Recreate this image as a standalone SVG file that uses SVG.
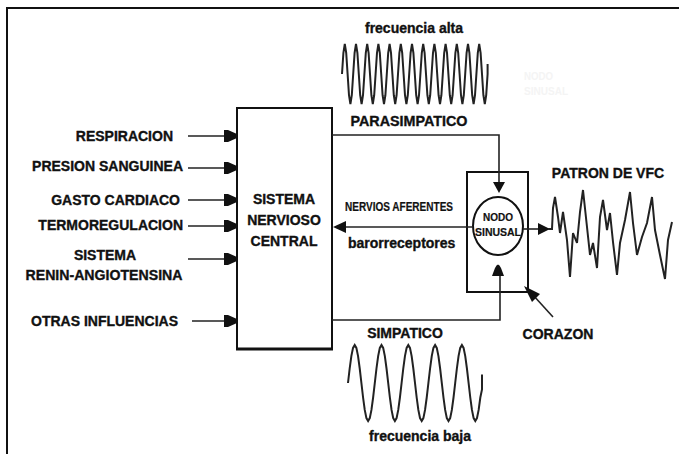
<svg xmlns="http://www.w3.org/2000/svg" xmlns:xlink="http://www.w3.org/1999/xlink" width="690" height="454" viewBox="0 0 690 454">
<style>
.t{font-family:"Liberation Sans",Arial,sans-serif;font-weight:bold;font-size:14px;fill:#111;stroke:#111;stroke-width:0.35}
.s{font-size:11px}
.ln{stroke:#222;stroke-width:1.6;fill:none}
.box{fill:#fff;stroke:#111;stroke-width:2}
.wave{fill:none;stroke:#222;stroke-width:2;stroke-linejoin:miter}
.ah{fill:#111}
</style>
<defs>
<path id="inarr" d="M0,-6 H4 L13,-2 V2 L4,6 H0 Z"/>
</defs>
<rect width="690" height="454" fill="#fff"/>
<path d="M7,460 V8 H679" fill="none" stroke="#111" stroke-width="2"/>

<g id="inputs">
<text class="t" x="173" y="141" text-anchor="end">RESPIRACION</text>
<text class="t" x="183" y="171" text-anchor="end">PRESION SANGUINEA</text>
<text class="t" x="180" y="205" text-anchor="end">GASTO CARDIACO</text>
<text class="t" x="183" y="230" text-anchor="end">TERMOREGULACION</text>
<text class="t" x="105" y="260" text-anchor="middle">SISTEMA</text>
<text class="t" x="104" y="280" text-anchor="middle" textLength="157" lengthAdjust="spacingAndGlyphs">RENIN-ANGIOTENSINA</text>
<text class="t" x="178" y="326" text-anchor="end">OTRAS INFLUENCIAS</text>
</g>

<g id="cns">
<rect class="box" x="237" y="108" width="95" height="241"/>
<line x1="236" y1="349" x2="333" y2="349" stroke="#111" stroke-width="3"/>
<text class="t" x="284" y="204" text-anchor="middle">SISTEMA</text>
<text class="t" x="284" y="225" text-anchor="middle">NERVIOSO</text>
<text class="t" x="284" y="246" text-anchor="middle">CENTRAL</text>
</g>

<g id="heart">
<rect class="box" x="467" y="172" width="61" height="120"/>
<ellipse cx="498" cy="226" rx="25" ry="29" fill="#fff" stroke="#111" stroke-width="2"/>
<text class="t s" x="498" y="221" text-anchor="middle" textLength="30" lengthAdjust="spacingAndGlyphs" style="stroke-width:0.2">NODO</text>
<text class="t s" x="498" y="236" text-anchor="middle" textLength="46" lengthAdjust="spacingAndGlyphs" style="stroke-width:0.2">SINUSAL</text>
<text class="t" x="558" y="339" text-anchor="middle">CORAZON</text>
</g>

<g id="faint-label">
<text class="t s" x="524" y="80" textLength="29" lengthAdjust="spacingAndGlyphs" style="fill:#f4f4f4;stroke:none">NODO</text>
<text class="t s" x="524" y="95" textLength="44" lengthAdjust="spacingAndGlyphs" style="fill:#f4f4f4;stroke:none">SINUSAL</text>
</g>

<g id="connectors">
<line class="ln" x1="188" y1="136" x2="226" y2="136"/>
<line class="ln" x1="188" y1="168" x2="226" y2="168"/>
<line class="ln" x1="188" y1="200" x2="226" y2="200"/>
<line class="ln" x1="188" y1="226" x2="226" y2="226"/>
<line class="ln" x1="188" y1="259" x2="226" y2="259"/>
<line class="ln" x1="192" y1="321" x2="226" y2="321"/>
<use href="#inarr" xlink:href="#inarr" x="224" y="136" class="ah"/>
<use href="#inarr" xlink:href="#inarr" x="224" y="168" class="ah"/>
<use href="#inarr" xlink:href="#inarr" x="224" y="200" class="ah"/>
<use href="#inarr" xlink:href="#inarr" x="224" y="226" class="ah"/>
<use href="#inarr" xlink:href="#inarr" x="224" y="259" class="ah"/>
<use href="#inarr" xlink:href="#inarr" x="224" y="321" class="ah"/>
<polyline class="ln" points="332,135 499,135 499,183"/>
<polygon class="ah" points="493,182 505,182 499,193"/>
<polyline class="ln" points="332,320 500,320 500,275"/>
<path class="ah" d="M492,276 L504,276 L501,268 Q498,261 495,268 Z"/>
<line class="ln" x1="473" y1="227" x2="345" y2="227"/>
<polygon class="ah" points="333,227 346,221 346,233"/>
<line class="ln" x1="523" y1="229" x2="540" y2="229"/>
<polygon class="ah" points="538,223 538,235 550,229"/>
<line class="ln" x1="553" y1="317" x2="533" y2="295"/>
<polygon class="ah" points="524,286 540,294 532,302"/>
</g>

<g id="labels">
<text class="t" x="414" y="33" text-anchor="middle">frecuencia alta</text>
<text class="t" x="409" y="126" text-anchor="middle" textLength="117" lengthAdjust="spacingAndGlyphs">PARASIMPATICO</text>
<text class="t" x="345" y="211" textLength="108" lengthAdjust="spacingAndGlyphs" style="font-size:12px;stroke-width:0.2">NERVIOS AFERENTES</text>
<text class="t" x="348" y="248">barorreceptores</text>
<text class="t" x="405" y="338" text-anchor="middle">SIMPATICO</text>
<text class="t" x="420" y="441" text-anchor="middle">frecuencia baja</text>
<text class="t" x="608" y="178" text-anchor="middle">PATRON DE VFC</text>
</g>

<g id="waves">
<path class="wave" d="M342,74
l1.4,-21.2 l1.4,-8.8 l1.4,8.8 l1.4,21.2 l1.4,21.2 l1.4,8.8 l1.4,-8.8 l1.4,-21.2
l1.4,-21.2 l1.4,-8.8 l1.4,8.8 l1.4,21.2 l1.4,21.2 l1.4,8.8 l1.4,-8.8 l1.4,-21.2
l1.4,-21.2 l1.4,-8.8 l1.4,8.8 l1.4,21.2 l1.4,21.2 l1.4,8.8 l1.4,-8.8 l1.4,-21.2
l1.4,-21.2 l1.4,-8.8 l1.4,8.8 l1.4,21.2 l1.4,21.2 l1.4,8.8 l1.4,-8.8 l1.4,-21.2
l1.4,-21.2 l1.4,-8.8 l1.4,8.8 l1.4,21.2 l1.4,21.2 l1.4,8.8 l1.4,-8.8 l1.4,-21.2
l1.4,-21.2 l1.4,-8.8 l1.4,8.8 l1.4,21.2 l1.4,21.2 l1.4,8.8 l1.4,-8.8 l1.4,-21.2
l1.4,-21.2 l1.4,-8.8 l1.4,8.8 l1.4,21.2 l1.4,21.2 l1.4,8.8 l1.4,-8.8 l1.4,-21.2
l1.4,-21.2 l1.4,-8.8 l1.4,8.8 l1.4,21.2 l1.4,21.2 l1.4,8.8 l1.4,-8.8 l1.4,-21.2
l1.4,-21.2 l1.4,-8.8 l1.4,8.8 l1.4,21.2 l1.4,21.2 l1.4,8.8 l1.4,-8.8 l1.4,-21.2
l1.4,-21.2 l1.4,-8.8 l1.4,8.8 l1.4,21.2 l1.4,21.2 l1.4,8.8 l1.4,-8.8 l1.4,-21.2
l1.4,-21.2 l1.4,-8.8 l1.4,8.8 l1.4,21.2 l1.4,21.2 l1.4,8.8 l1.4,-8.8 l1.4,-21.2
l1.4,-21.2 l1.4,-8.8 l1.4,8.8 l1.4,21.2 l1.4,21.2 l1.4,8.8 l1.4,-8.8 l1.4,-21.2
l1.4,-21.2 l1.4,-8.8 l1.4,8.8 l1.4,21.2 l1.4,21.2 l1.4,8.8 l1.4,-8.8 l1.4,-21.2
v-10"/>
<path class="wave" d="M348,383
l1.675,-14.5 l1.675,-12.4 l1.675,-8.2 l1.675,-2.9 l1.675,2.9 l1.675,8.2 l1.675,12.4 l1.675,14.5 l1.675,14.5 l1.675,12.4 l1.675,8.2 l1.675,2.9 l1.675,-2.9 l1.675,-8.2 l1.675,-12.4 l1.675,-14.5
l1.675,-14.5 l1.675,-12.4 l1.675,-8.2 l1.675,-2.9 l1.675,2.9 l1.675,8.2 l1.675,12.4 l1.675,14.5 l1.675,14.5 l1.675,12.4 l1.675,8.2 l1.675,2.9 l1.675,-2.9 l1.675,-8.2 l1.675,-12.4 l1.675,-14.5
l1.675,-14.5 l1.675,-12.4 l1.675,-8.2 l1.675,-2.9 l1.675,2.9 l1.675,8.2 l1.675,12.4 l1.675,14.5 l1.675,14.5 l1.675,12.4 l1.675,8.2 l1.675,2.9 l1.675,-2.9 l1.675,-8.2 l1.675,-12.4 l1.675,-14.5
l1.675,-14.5 l1.675,-12.4 l1.675,-8.2 l1.675,-2.9 l1.675,2.9 l1.675,8.2 l1.675,12.4 l1.675,14.5 l1.675,14.5 l1.675,12.4 l1.675,8.2 l1.675,2.9 l1.675,-2.9 l1.675,-8.2 l1.675,-12.4 l1.675,-14.5
l1.675,-14.5 l1.675,-12.4 l1.675,-8.2 l1.675,-2.9 l1.675,2.9 l1.675,8.2 l1.675,12.4 l1.675,14.5 l1.675,14.5 l1.675,12.4 l1.675,8.2 l1.675,2.9 l1.675,-2.9 l1.675,-8.2 l1.675,-12.4 l1.675,-8 v-15"/>
<polyline class="wave" points="548,229 552,229 553,208 555,197 558,217 560,233 563,212 567,240 570,277 573,233 577,243 580,212 583,190 587,227 590,255 593,243 597,268 600,217 603,200 607,230 610,213 613,242 617,275 620,243 625,220 630,192 633,223 637,255 642,237 647,223 652,197 655,230 660,255 665,279 668,240 672,222"/>
</g>
</svg>
